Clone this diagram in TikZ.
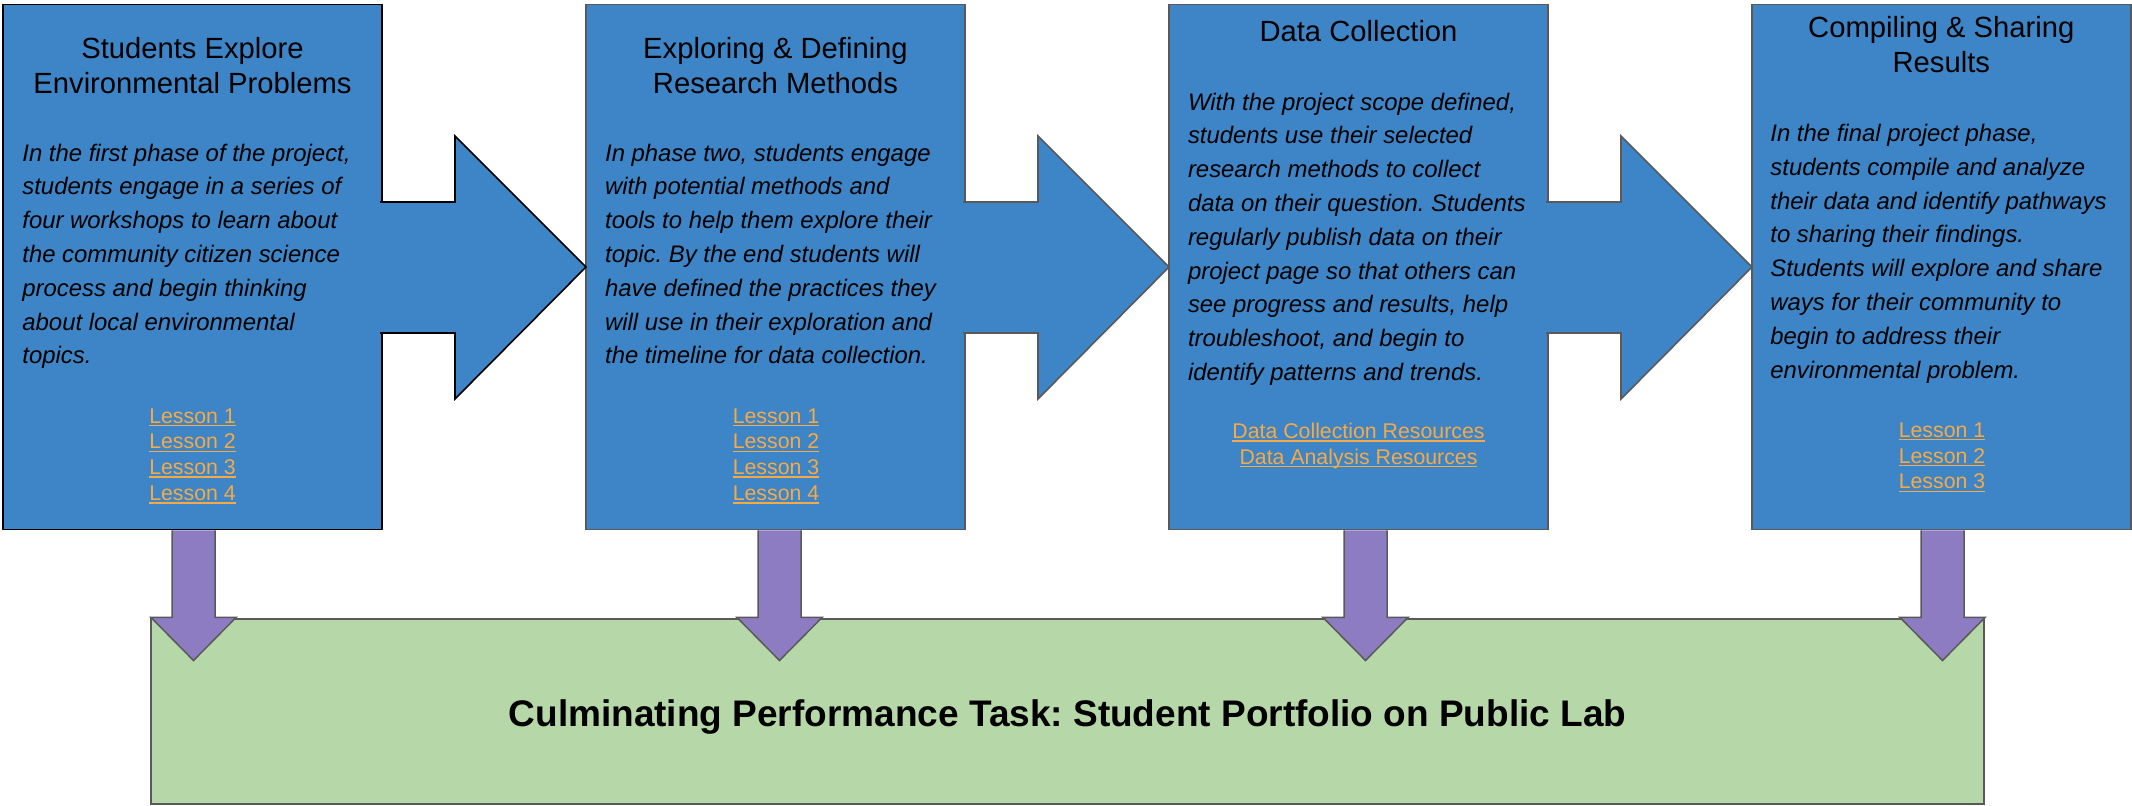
\documentclass[tikz,border=0pt]{standalone}
\usepackage{fontspec}
\setmainfont{Liberation Sans}
\frenchspacing
\definecolor{phaseblue}{HTML}{3D85C6}
\definecolor{taskgreen}{HTML}{B6D7A8}
\definecolor{downpurple}{HTML}{8E7CC3}
\definecolor{edgegray}{HTML}{595959}
\definecolor{linkorange}{HTML}{F6AA46}
\newcommand{\weblink}[1]{\setbox0\hbox{#1}\rlap{\rule[-1.6pt]{\wd0}{0.8pt}}\box0}
\tikzset{
  phase/.style={draw=edgegray, fill=phaseblue, line width=0.8pt, minimum width=189.5pt, minimum height=262.5pt, inner sep=0pt, outer sep=0pt},
  heading/.style={anchor=base, align=center, inner sep=0pt, font=\fontsize{14.6}{17.6}\selectfont},
  blurb/.style={anchor=base west, align=left, inner sep=0pt, font=\fontsize{11.95}{16.9}\selectfont\itshape},
  lessons/.style={anchor=base, align=center, inner sep=0pt, text=linkorange, font=\fontsize{10.65}{12.95}\selectfont},
  flow/.style={draw=edgegray, fill=phaseblue, line width=0.8pt},
  feed/.style={draw=edgegray, fill=downpurple, line width=0.75pt},
  task/.style={draw=edgegray, fill=taskgreen, line width=0.8pt, minimum width=916.5pt, minimum height=92.5pt, inner sep=0pt, outer sep=0pt, text height=14.5pt, text depth=0pt, font=\fontsize{18.5}{22}\selectfont\bfseries}
}
\begin{document}
\begin{tikzpicture}[x=0.5pt, y=-0.5pt]
    \useasboundingbox (0,0) rectangle (2132,806);

    % phase boxes
    \node[phase, draw=black] (b1) at (192.5,267) {};
    \node[phase] (b2) at (775.5,267) {};
    \node[phase] (b3) at (1358.5,267) {};
    \node[phase] (b4) at (1941.5,267) {};

    \node[task] (t) at (1067.5,711.5) {Culminating Performance Task: Student Portfolio on Public Lab};

    % down arrows into the task
    \draw[feed] (b1.south) ++(-20.5,1) -- ++(0,87) -- ++(-21,0) -- ++(42.5,43) -- ++(42.5,-43) -- ++(-21,0) -- ++(0,-87);
    \draw[feed] (b2.south) ++(-17.5,1) -- ++(0,87) -- ++(-21,0) -- ++(42.5,43) -- ++(42.5,-43) -- ++(-21,0) -- ++(0,-87);
    \draw[feed] (b3.south) ++(-14.5,1) -- ++(0,87) -- ++(-21,0) -- ++(42.5,43) -- ++(42.5,-43) -- ++(-21,0) -- ++(0,-87);
    \draw[feed] (b4.south) ++(-20.5,1) -- ++(0,87) -- ++(-21,0) -- ++(42.5,43) -- ++(42.5,-43) -- ++(-21,0) -- ++(0,-87);

    % arrows between phases
    \draw[flow, draw=black] (b1.east) ++(-2,-65) -- ++(75,0) -- ++(0,-66) -- (b2.west) -- ++(-131,132) -- ++(0,-66) -- ++(-75,0);
    \draw[flow] (b2.east) ++(-2,-65) -- ++(75,0) -- ++(0,-66) -- (b3.west) -- ++(-131,132) -- ++(0,-66) -- ++(-75,0);
    \draw[flow] (b3.east) ++(-2,-65) -- ++(75,0) -- ++(0,-66) -- (b4.west) -- ++(-131,132) -- ++(0,-66) -- ++(-75,0);

    % phase 1 (nodes sit on the baseline of their last line)
    \node[heading] (h1) at (192.5,93.7) {Students Explore\\Environmental Problems};
    \node[blurb] (d1) at (22,364) {In the first phase of the project,\\students engage in a series of\\four workshops to learn about\\the community citizen science\\process and begin thinking\\about local environmental\\topics.};
    \node[lessons] (l1) at (192.5,500.8) {\weblink{Lesson 1}\\\weblink{Lesson 2}\\\weblink{Lesson 3}\\\weblink{Lesson 4}};

    % phase 2
    \node[heading] (h2) at (775.5,93.7) {Exploring \& Defining\\Research Methods};
    \node[blurb] (d2) at (604.7,364) {In phase two, students engage\\with potential methods and\\tools to help them explore their\\topic. By the end students will\\have defined the practices they\\will use in their exploration and\\the timeline for data collection.};
    \node[lessons] (l2) at (776,500.8) {\weblink{Lesson 1}\\\weblink{Lesson 2}\\\weblink{Lesson 3}\\\weblink{Lesson 4}};

    % phase 3
    \node[heading] (h3) at (1358.5,41.3) {Data Collection};
    \node[blurb] (d3) at (1187.6,380.6) {With the project scope defined,\\students use their selected\\research methods to collect\\data on their question. Students\\regularly publish data on their\\project page so that others can\\see progress and results, help\\troubleshoot, and begin to\\identify patterns and trends.};
    \node[lessons] (l3) at (1358.5,464.3) {\weblink{Data Collection Resources}\\\weblink{Data Analysis Resources}};

    % phase 4
    \node[heading] (h4) at (1941.3,73) {Compiling \& Sharing\\Results};
    \node[blurb] (d4) at (1770,378.2) {In the final project phase,\\students compile and analyze\\their data and identify pathways\\to sharing their findings.\\Students will explore and share\\ways for their community to\\begin to address their\\environmental problem.};
    \node[lessons] (l4) at (1942,489) {\weblink{Lesson 1}\\\weblink{Lesson 2}\\\weblink{Lesson 3}};
\end{tikzpicture}
\end{document}
